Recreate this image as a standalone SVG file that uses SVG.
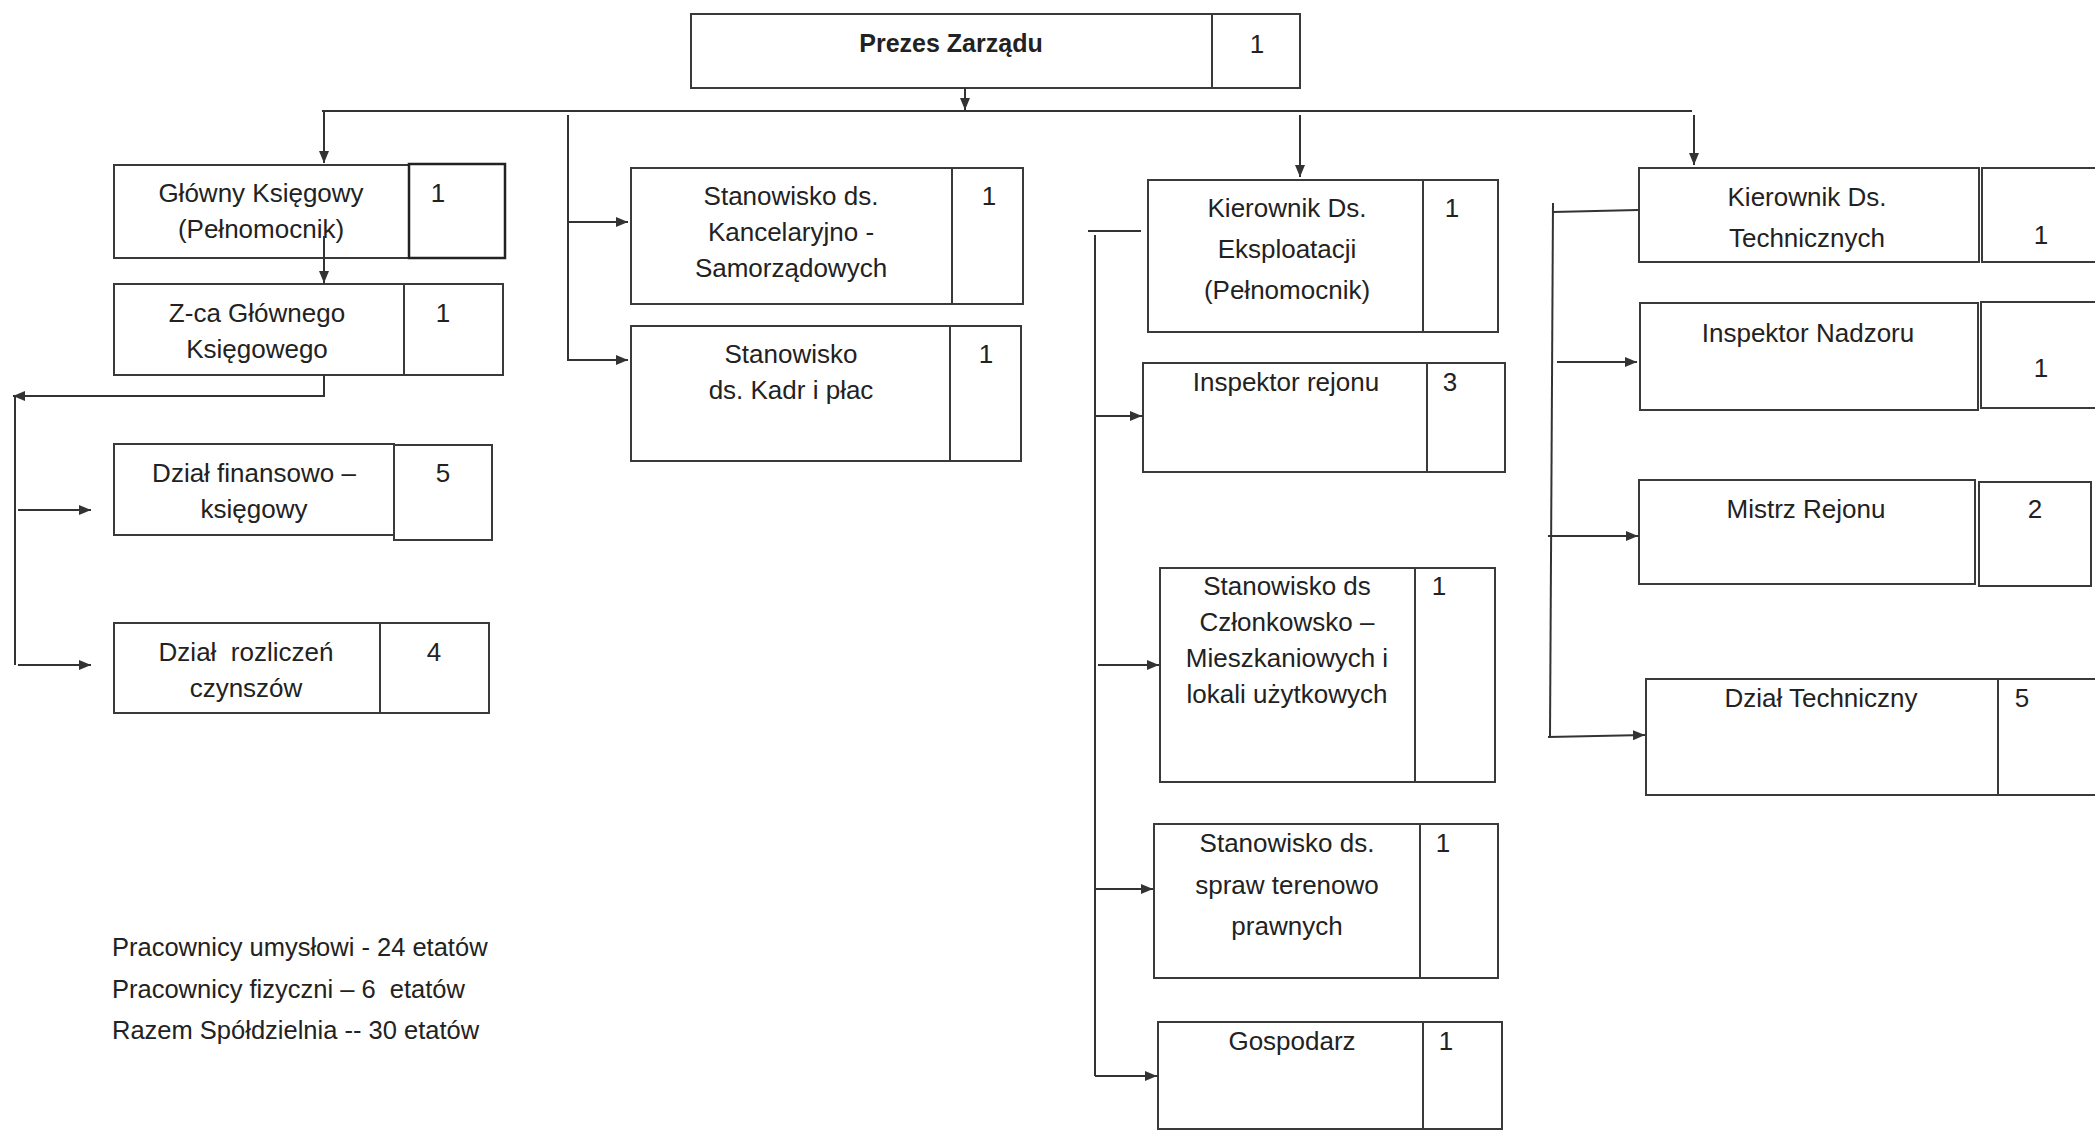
<svg xmlns="http://www.w3.org/2000/svg" width="2095" height="1131" viewBox="0 0 2095 1131">
<style>
  .box { fill: #ffffff; stroke: #3a3a3a; stroke-width: 2; }
  .thick { fill: #ffffff; stroke: #222222; stroke-width: 2.5; }
  .t { font-family: "Liberation Sans", Arial, sans-serif; font-size: 26px; fill: #222222; text-anchor: middle; }
  .b { font-family: "Liberation Sans", Arial, sans-serif; font-size: 25px; font-weight: bold; fill: #222222; text-anchor: middle; }
  .f { font-family: "Liberation Sans", Arial, sans-serif; font-size: 25.5px; fill: #222222; }
  .c { fill: none; stroke: #333333; stroke-width: 2; }
</style>
<defs>
  <marker id="ah" viewBox="0 0 12 10" refX="12" refY="5" markerWidth="12" markerHeight="10" markerUnits="userSpaceOnUse" orient="auto">
    <path d="M0,0 L12,5 L0,10 z" fill="#333333"/>
  </marker>
</defs>
<rect width="2095" height="1131" fill="#ffffff"/>

<g id="prezes">
  <rect class="box" x="691" y="14" width="521" height="74"/>
  <rect class="box" x="1212" y="14" width="88" height="74"/>
  <text class="b" x="951" y="52">Prezes Zarządu</text>
  <text class="t" x="1257" y="53">1</text>
</g>

<g id="glowny-ksiegowy">
  <rect class="box" x="114" y="165" width="295" height="93"/>
  <rect class="thick" x="409" y="164" width="96" height="94"/>
  <text class="t" x="261" y="202">Główny Księgowy</text>
  <text class="t" x="261" y="238">(Pełnomocnik)</text>
  <text class="t" x="438" y="202">1</text>
</g>

<g id="zca-glownego">
  <rect class="box" x="114" y="284" width="290" height="91"/>
  <rect class="box" x="404" y="284" width="99" height="91"/>
  <text class="t" x="257" y="322">Z-ca Głównego</text>
  <text class="t" x="257" y="358">Księgowego</text>
  <text class="t" x="443" y="322">1</text>
</g>

<g id="dzial-finansowo">
  <rect class="box" x="114" y="444" width="280" height="91"/>
  <rect class="box" x="394" y="445" width="98" height="95"/>
  <text class="t" x="254" y="482">Dział finansowo –</text>
  <text class="t" x="254" y="518">księgowy</text>
  <text class="t" x="443" y="482">5</text>
</g>

<g id="dzial-rozliczen">
  <rect class="box" x="114" y="623" width="266" height="90"/>
  <rect class="box" x="380" y="623" width="109" height="90"/>
  <text class="t" x="246" y="661" xml:space="preserve">Dział  rozliczeń</text>
  <text class="t" x="246" y="697">czynszów</text>
  <text class="t" x="434" y="661">4</text>
</g>

<g id="kancelaryjno">
  <rect class="box" x="631" y="168" width="321" height="136"/>
  <rect class="box" x="952" y="168" width="71" height="136"/>
  <text class="t" x="791" y="205">Stanowisko ds.</text>
  <text class="t" x="791" y="241">Kancelaryjno -</text>
  <text class="t" x="791" y="277">Samorządowych</text>
  <text class="t" x="989" y="205">1</text>
</g>

<g id="kadr">
  <rect class="box" x="631" y="326" width="319" height="135"/>
  <rect class="box" x="950" y="326" width="71" height="135"/>
  <text class="t" x="791" y="363">Stanowisko</text>
  <text class="t" x="791" y="399">ds. Kadr i płac</text>
  <text class="t" x="986" y="363">1</text>
</g>

<g id="kierownik-eksploatacji">
  <rect class="box" x="1148" y="180" width="275" height="152"/>
  <rect class="box" x="1423" y="180" width="75" height="152"/>
  <text class="t" x="1287" y="217">Kierownik Ds.</text>
  <text class="t" x="1287" y="258">Eksploatacji</text>
  <text class="t" x="1287" y="299">(Pełnomocnik)</text>
  <text class="t" x="1452" y="217">1</text>
</g>

<g id="inspektor-rejonu">
  <rect class="box" x="1143" y="363" width="284" height="109"/>
  <rect class="box" x="1427" y="363" width="78" height="109"/>
  <text class="t" x="1286" y="391">Inspektor rejonu</text>
  <text class="t" x="1450" y="391">3</text>
</g>

<g id="czlonkowsko">
  <rect class="box" x="1160" y="568" width="255" height="214"/>
  <rect class="box" x="1415" y="568" width="80" height="214"/>
  <text class="t" x="1287" y="595">Stanowisko ds</text>
  <text class="t" x="1287" y="631">Członkowsko –</text>
  <text class="t" x="1287" y="667">Mieszkaniowych i</text>
  <text class="t" x="1287" y="703">lokali użytkowych</text>
  <text class="t" x="1439" y="595">1</text>
</g>

<g id="terenowo-prawnych">
  <rect class="box" x="1154" y="824" width="266" height="154"/>
  <rect class="box" x="1420" y="824" width="78" height="154"/>
  <text class="t" x="1287" y="852">Stanowisko ds.</text>
  <text class="t" x="1287" y="894">spraw terenowo</text>
  <text class="t" x="1287" y="935">prawnych</text>
  <text class="t" x="1443" y="852">1</text>
</g>

<g id="gospodarz">
  <rect class="box" x="1158" y="1022" width="265" height="107"/>
  <rect class="box" x="1423" y="1022" width="79" height="107"/>
  <text class="t" x="1292" y="1050">Gospodarz</text>
  <text class="t" x="1446" y="1050">1</text>
</g>

<g id="kierownik-technicznych">
  <rect class="box" x="1639" y="168" width="340" height="94"/>
  <rect class="box" x="1982" y="168" width="130" height="94"/>
  <text class="t" x="1807" y="206">Kierownik Ds.</text>
  <text class="t" x="1807" y="247">Technicznych</text>
  <text class="t" x="2041" y="244">1</text>
</g>

<g id="inspektor-nadzoru">
  <rect class="box" x="1640" y="303" width="338" height="107"/>
  <rect class="box" x="1981" y="302" width="130" height="106"/>
  <text class="t" x="1808" y="342">Inspektor Nadzoru</text>
  <text class="t" x="2041" y="377">1</text>
</g>

<g id="mistrz-rejonu">
  <rect class="box" x="1639" y="480" width="336" height="104"/>
  <rect class="box" x="1979" y="482" width="112" height="104"/>
  <text class="t" x="1806" y="518">Mistrz Rejonu</text>
  <text class="t" x="2035" y="518">2</text>
</g>

<g id="dzial-techniczny">
  <rect class="box" x="1646" y="679" width="352" height="116"/>
  <rect class="box" x="1998" y="679" width="120" height="116"/>
  <text class="t" x="1821" y="707">Dział Techniczny</text>
  <text class="t" x="2022" y="707">5</text>
</g>

<g id="summary">
  <text class="f" x="112" y="956">Pracownicy umysłowi - 24 etatów</text>
  <text class="f" x="112" y="998" xml:space="preserve">Pracownicy fizyczni – 6  etatów</text>
  <text class="f" x="112" y="1039">Razem Spółdzielnia -- 30 etatów</text>
</g>

<g id="connectors">
  <line class="c" x1="965" y1="88" x2="965" y2="110" marker-end="url(#ah)"/>
  <line class="c" x1="322" y1="111" x2="1692" y2="111"/>
  <line class="c" x1="324" y1="111" x2="324" y2="163" marker-end="url(#ah)"/>
  <line class="c" x1="568" y1="115" x2="568" y2="361"/>
  <line class="c" x1="568" y1="222" x2="628" y2="222" marker-end="url(#ah)"/>
  <line class="c" x1="568" y1="360" x2="628" y2="360" marker-end="url(#ah)" stroke-width="3"/>
  <line class="c" x1="1300" y1="115" x2="1300" y2="177" marker-end="url(#ah)"/>
  <line class="c" x1="1694" y1="115" x2="1694" y2="165" marker-end="url(#ah)"/>
  <line class="c" x1="324" y1="236" x2="324" y2="283" marker-end="url(#ah)"/>
  <polyline class="c" points="324,375 324,396 13,396" marker-end="url(#ah)"/>
  <line class="c" x1="15" y1="396" x2="15" y2="665"/>
  <line class="c" x1="18" y1="510" x2="91" y2="510" marker-end="url(#ah)"/>
  <line class="c" x1="18" y1="665" x2="91" y2="665" marker-end="url(#ah)"/>
  <line class="c" x1="1088" y1="231" x2="1141" y2="231"/>
  <line class="c" x1="1095" y1="235" x2="1095" y2="1076"/>
  <line class="c" x1="1095" y1="416" x2="1142" y2="416" marker-end="url(#ah)"/>
  <line class="c" x1="1098" y1="665" x2="1159" y2="665" marker-end="url(#ah)"/>
  <line class="c" x1="1096" y1="889" x2="1153" y2="889" marker-end="url(#ah)"/>
  <line class="c" x1="1095" y1="1076" x2="1157" y2="1076" marker-end="url(#ah)"/>
  <line class="c" x1="1553" y1="212" x2="1638" y2="210"/>
  <line class="c" x1="1553" y1="203" x2="1550" y2="737"/>
  <line class="c" x1="1557" y1="362" x2="1637" y2="362" marker-end="url(#ah)"/>
  <line class="c" x1="1548" y1="536" x2="1638" y2="536" marker-end="url(#ah)"/>
  <line class="c" x1="1548" y1="737" x2="1645" y2="735" marker-end="url(#ah)"/>
</g>
</svg>
